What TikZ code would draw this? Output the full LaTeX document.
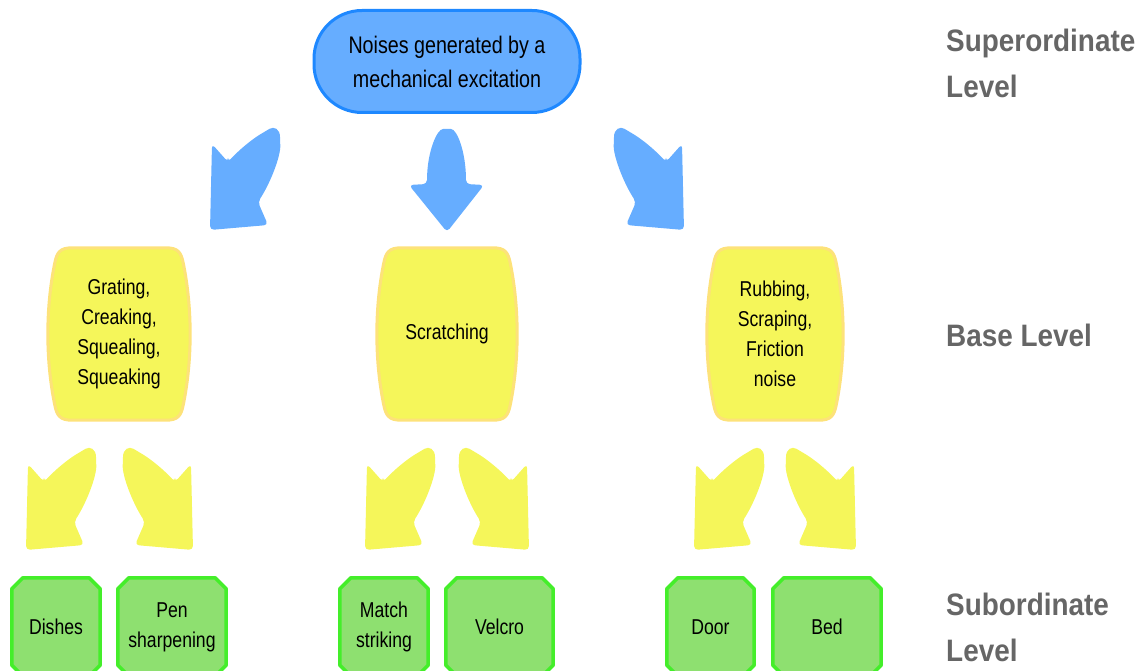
\documentclass[tikz,border=0pt]{standalone}
\usepackage{fontspec}
\newfontfamily\narrowfont{Liberation Sans}[FakeStretch=0.82]
\newfontfamily\levelfont{Liberation Sans}[FakeStretch=0.9]
\usetikzlibrary{calc,backgrounds}

\definecolor{blueFill}{HTML}{66ADFF}
\definecolor{blueLine}{HTML}{1E88FF}
\definecolor{yelFill}{HTML}{F5F65A}
\definecolor{yelLine}{HTML}{FDE27A}
\definecolor{grnFill}{HTML}{8EE070}
\definecolor{grnLine}{HTML}{44EE2A}
\definecolor{lvlGray}{HTML}{666666}

\tikzset{
  topnode/.style={draw=blueLine, fill=blueFill, line width=3pt, rounded corners=48pt,
    minimum width=266pt, minimum height=102pt, inner sep=0pt, align=center,
    font=\narrowfont\fontsize{24}{34}\selectfont},
  basenode/.style={minimum width=#1, minimum height=172pt, inner sep=0pt, align=center,
    font=\narrowfont\fontsize{21.5}{30}\selectfont},
  leafnode/.style={minimum width=#1, minimum height=98pt, inner sep=0pt, align=center,
    font=\narrowfont\fontsize{21.5}{30}\selectfont},
  barrelline/.style={draw=yelLine, fill=yelFill, line width=3pt},
  leafline/.style={draw=grnLine, fill=grnFill, line width=3.5pt, line join=round},
  lvl/.style={anchor=west, align=left, text=lvlGray, inner sep=0pt,
    font=\levelfont\bfseries\fontsize{31}{46}\selectfont},
  % curved arrow pointing down-left; its origin is the corner of the head
  bentarrow/.pic={
    \fill[pic actions, rounded corners=4pt] (17,-68) -- (1,-86) -- (-1,0) -- (57,-5) -- (47,-28)
      .. controls (60,-48) and (70,-75) .. (69,-89)
      .. controls (69,-101) and (63,-104) .. (55,-99)
      .. controls (41,-91) and (28,-80) .. (17,-68) -- cycle;
  },
  % straight arrow pointing down; its origin is the tip
  downarrow/.pic={
    \fill[pic actions, rounded corners=4pt] (0,0) -- (-38,-47) -- (-20,-48)
      .. controls (-20,-80) and (-10,-103) .. (0,-103)
      .. controls (10,-103) and (19,-80) .. (19,-48) -- (37,-47) -- cycle;
  }
}

% barrel outline behind a base-level node
\newcommand\drawbarrel[1]{%
  \begin{scope}[on background layer]
  \draw[barrelline] ($(#1.north west)+(24,0)$) -- ($(#1.north east)+(-24,0)$)
    .. controls ($(#1.north east)+(-12,0)$) and ($(#1.north east)+(-9,5)$) .. ($(#1.north east)+(-7,15)$)
    .. controls ($(#1.north east)+(2.3,60)$) and ($(#1.south east)+(2.3,-60)$) .. ($(#1.south east)+(-7,-15)$)
    .. controls ($(#1.south east)+(-9,-5)$) and ($(#1.south east)+(-12,0)$) .. ($(#1.south east)+(-24,0)$)
    -- ($(#1.south west)+(24,0)$)
    .. controls ($(#1.south west)+(12,0)$) and ($(#1.south west)+(9,-5)$) .. ($(#1.south west)+(7,-15)$)
    .. controls ($(#1.south west)+(-2.3,-60)$) and ($(#1.north west)+(-2.3,60)$) .. ($(#1.north west)+(7,15)$)
    .. controls ($(#1.north west)+(9,5)$) and ($(#1.north west)+(12,0)$) .. ($(#1.north west)+(24,0)$) -- cycle;
  \end{scope}}

% chamfered outline behind a subordinate-level node
\newcommand\drawchamfer[1]{%
  \begin{scope}[on background layer]
  \draw[leafline] ($(#1.north west)+(11,0)$) -- ($(#1.north east)+(-11,0)$) -- ($(#1.north east)+(0,11)$)
    -- ($(#1.south east)+(0,-11)$) -- ($(#1.south east)+(-11,0)$) -- ($(#1.south west)+(11,0)$)
    -- ($(#1.south west)+(0,-11)$) -- ($(#1.north west)+(0,11)$) -- cycle;
  \end{scope}}

\begin{document}
\begin{tikzpicture}[x=1pt,y=-1pt]
\useasboundingbox (0,0) rectangle (1144,671);
\clip (0,0) rectangle (1144,671);

% superordinate level
\node[topnode] (top) at (447,61.5) {Noises generated by a\\mechanical excitation};

% arrows to the base level
\pic[fill=blueFill] at (211,230) {bentarrow};
\pic[fill=blueFill] at (447,232) {downarrow};
\pic[fill=blueFill, xscale=-1] at (683,230) {bentarrow};

% base level
\node[basenode=142pt] (grating) at (119,334) {Grating,\\Creaking,\\Squealing,\\Squeaking};
\node[basenode=140pt] (scratch) at (447,334) {Scratching};
\node[basenode=136pt] (rubbing) at (775,334) {Rubbing,\\Scraping,\\Friction\\noise};
\drawbarrel{grating}
\drawbarrel{scratch}
\drawbarrel{rubbing}

% arrows to the subordinate level
\pic[fill=yelFill] at (27,550) {bentarrow};
\pic[fill=yelFill, xscale=-1] at (192,550) {bentarrow};
\pic[fill=yelFill] at (366,550) {bentarrow};
\pic[fill=yelFill, xscale=-1] at (528,550) {bentarrow};
\pic[fill=yelFill] at (695,550) {bentarrow};
\pic[fill=yelFill, xscale=-1] at (855,550) {bentarrow};

% subordinate level
\node[leafnode=88pt] (dishes) at (56,627) {Dishes};
\node[leafnode=108pt] (pen) at (172,627) {Pen\\sharpening};
\node[leafnode=88pt] (match) at (384,627) {Match\\striking};
\node[leafnode=107pt] (velcro) at (499.5,627) {Velcro};
\node[leafnode=87pt] (door) at (710.5,627) {Door};
\node[leafnode=108pt] (bed) at (827,627) {Bed};
\drawchamfer{dishes}
\drawchamfer{pen}
\drawchamfer{match}
\drawchamfer{velcro}
\drawchamfer{door}
\drawchamfer{bed}

% level labels
\node[lvl] (suplvl) at (946,63) {Superordinate\\Level};
\node[lvl] (baselvl) at (946,335) {Base Level};
\node[lvl] (sublvl) at (946,627) {Subordinate\\Level};
\end{tikzpicture}
\end{document}
